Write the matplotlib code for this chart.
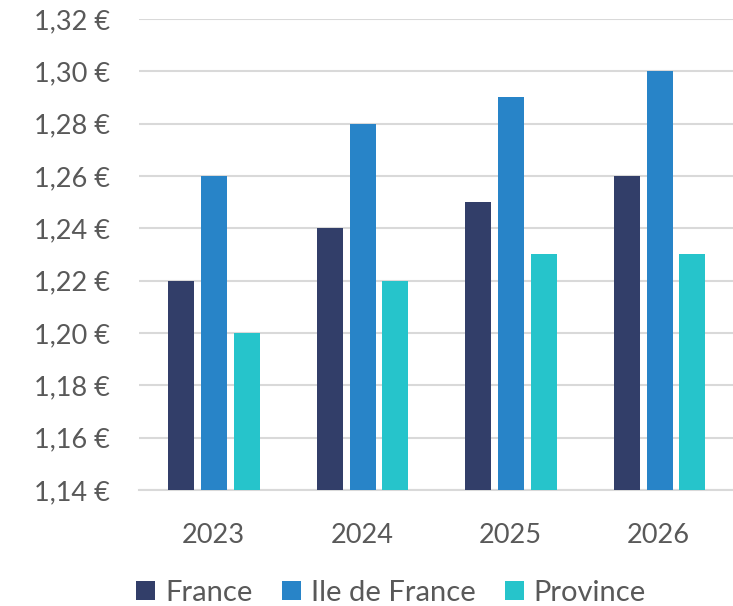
import numpy as np
import matplotlib.pyplot as plt
from matplotlib.ticker import FuncFormatter

years = ["2023", "2024", "2025", "2026"]
series_names = ["France", "Ile de France", "Province"]
france = [1.22, 1.24, 1.25, 1.26]
idf = [1.26, 1.28, 1.29, 1.30]
province = [1.20, 1.22, 1.23, 1.23]
colors = ["#323E69", "#2884C8", "#26C4CB"]

plt.rcParams['font.family'] = ['Lato', 'DejaVu Sans']
txt = "#595959"
grid = "#D9D9D9"

fig = plt.figure(figsize=(7.33, 6.06), dpi=100)
ax = fig.add_axes([139 / 733, 1 - 490 / 606, 1 - 139 / 733, (490 - 19) / 606])

x = np.arange(len(years))
w = 0.175
step = 0.221
for i, (vals, name) in enumerate(zip([france, idf, province], series_names)):
    ax.bar(x + (i - 1) * step + 0.006, vals, width=w, color=colors[i], label=name, zorder=3)

ax.set_ylim(1.14, 1.32)
ax.set_yticks(np.arange(1.14, 1.3201, 0.02))
ax.yaxis.set_major_formatter(FuncFormatter(lambda v, p: f"{v:.2f} €".replace(".", ",")))
ax.set_xlim(-0.5, 3.5)
ax.set_xticks(x)
ax.set_xticklabels(years)

ax.grid(axis="y", color=grid, linewidth=1.5, zorder=0)
for s in ["top", "right", "left"]:
    ax.spines[s].set_visible(False)
ax.spines["bottom"].set_color(grid)
ax.spines["bottom"].set_linewidth(1.5)
ax.tick_params(axis="both", length=0, labelsize=19.5, colors=txt)
ax.tick_params(axis="y", pad=21)
ax.tick_params(axis="x", pad=24)

ax.legend(loc="center", bbox_to_anchor=(391 / 733, 1 - 593 / 606), bbox_transform=fig.transFigure,
          ncol=3, frameon=False, fontsize=21, labelcolor=txt, handlelength=0.65, handleheight=0.65,
          handletextpad=0.35, columnspacing=1.0)

fig.savefig("out.png", dpi=100)
